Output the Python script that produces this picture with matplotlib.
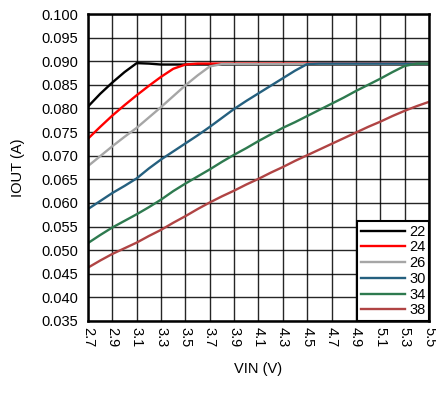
import matplotlib
matplotlib.use("Agg")
import matplotlib.pyplot as plt

plt.rcParams["font.family"] = ["Liberation Sans", "DejaVu Sans"]

# VIN (V), mesurat cada 0.1 V
vin = [2.7, 2.8, 2.9, 3.0, 3.1, 3.2, 3.3, 3.4, 3.5, 3.6, 3.7, 3.8, 3.9, 4.0, 4.1,
       4.2, 4.3, 4.4, 4.5, 4.6, 4.7, 4.8, 4.9, 5.0, 5.1, 5.2, 5.3, 5.4, 5.5]

# IOUT (A) per a cada serie
iout_22 = [0.0804, 0.0831, 0.0855, 0.0877, 0.0896, 0.0895, 0.0893, 0.0893, 0.0893, 0.0893,
           0.0893, 0.0893, 0.0893, 0.0893, 0.0893, 0.0893, 0.0893, 0.0893, 0.0893, 0.0893,
           0.0893, 0.0893, 0.0893, 0.0893, 0.0893, 0.0893, 0.0893, 0.0893, 0.0893]
iout_24 = [0.0736, 0.0761, 0.0785, 0.0807, 0.0828, 0.0848, 0.0867, 0.0884, 0.0893, 0.0895,
           0.0895, 0.0895, 0.0895, 0.0895, 0.0895, 0.0895, 0.0895, 0.0895, 0.0895, 0.0895,
           0.0895, 0.0895, 0.0895, 0.0895, 0.0895, 0.0895, 0.0895, 0.0895, 0.0895]
iout_26 = [0.0678, 0.0699, 0.0720, 0.0740, 0.0759, 0.0781, 0.0803, 0.0826, 0.0849, 0.0870,
           0.0889, 0.0894, 0.0894, 0.0894, 0.0894, 0.0894, 0.0894, 0.0894, 0.0894, 0.0894,
           0.0894, 0.0894, 0.0894, 0.0894, 0.0894, 0.0894, 0.0894, 0.0894, 0.0894]
iout_30 = [0.0587, 0.0604, 0.0621, 0.0636, 0.0652, 0.0673, 0.0692, 0.0709, 0.0726, 0.0743,
           0.0761, 0.0780, 0.0799, 0.0816, 0.0832, 0.0848, 0.0864, 0.0880, 0.0894, 0.0895,
           0.0895, 0.0895, 0.0895, 0.0895, 0.0895, 0.0895, 0.0895, 0.0895, 0.0895]
iout_34 = [0.0515, 0.0532, 0.0548, 0.0562, 0.0576, 0.0591, 0.0607, 0.0625, 0.0641, 0.0656,
           0.0671, 0.0687, 0.0702, 0.0716, 0.0731, 0.0745, 0.0759, 0.0771, 0.0784, 0.0797,
           0.0810, 0.0823, 0.0837, 0.0850, 0.0863, 0.0877, 0.0890, 0.0895, 0.0895]
iout_38 = [0.0463, 0.0478, 0.0492, 0.0504, 0.0516, 0.0530, 0.0543, 0.0558, 0.0572, 0.0587,
           0.0601, 0.0614, 0.0626, 0.0639, 0.0651, 0.0664, 0.0676, 0.0689, 0.0701, 0.0713,
           0.0725, 0.0737, 0.0749, 0.0761, 0.0772, 0.0784, 0.0795, 0.0805, 0.0814]

series_labels = ["22", "24", "26", "30", "34", "38"]
series = [iout_22, iout_24, iout_26, iout_30, iout_34, iout_38]
colors = ["#000000", "#FF0000", "#A6A6A6", "#25607F", "#2E7A4F", "#B04444"]

x_ticks = [2.7, 2.9, 3.1, 3.3, 3.5, 3.7, 3.9, 4.1, 4.3, 4.5, 4.7, 4.9, 5.1, 5.3, 5.5]
y_ticks = [0.035, 0.040, 0.045, 0.050, 0.055, 0.060, 0.065, 0.070, 0.075,
           0.080, 0.085, 0.090, 0.095, 0.100]

fig = plt.figure(figsize=(4.36, 4.08), dpi=100)
ax = fig.add_axes([88 / 436, 87 / 408, 341 / 436, 307 / 408])

ax.set_xlim(2.7, 5.5)
ax.set_ylim(0.035, 0.100)
ax.set_xticks(x_ticks)
ax.set_xticklabels([f"{v:.1f}" for v in x_ticks], rotation=-90)
ax.set_yticks(y_ticks)
ax.set_yticklabels([f"{v:.3f}" for v in y_ticks])
ax.tick_params(axis="both", length=0, labelsize=10.5)
ax.tick_params(axis="x", pad=4)
ax.tick_params(axis="y", pad=7)

# graella negra a cada marca
ax.grid(True, which="major", color="black", linewidth=1.0, alpha=0.85)
ax.set_axisbelow(True)

for vals, lab, col in zip(series, series_labels, colors):
    ax.plot(vin, vals, color=col, linewidth=1.7, label=lab, zorder=3)

for sp in ax.spines.values():
    sp.set_linewidth(1.8)
    sp.set_color("black")
    sp.set_zorder(4)

ax.set_xlabel("VIN (V)", fontsize=10.5)
ax.xaxis.set_label_coords(0.5, -0.135)
ax.set_ylabel("IOUT (A)", fontsize=10.5)
ax.yaxis.set_label_coords(-0.185, 0.5)

leg = ax.legend(loc="lower right", fontsize=10.5, frameon=True, fancybox=False,
                borderaxespad=0, handlelength=3.0, handletextpad=0.3,
                labelspacing=0.12, borderpad=0.25)
leg.get_frame().set_edgecolor("black")
leg.get_frame().set_linewidth(1.5)
leg.get_frame().set_alpha(1)
leg.set_zorder(5)

plt.savefig("out.png", dpi=100)
